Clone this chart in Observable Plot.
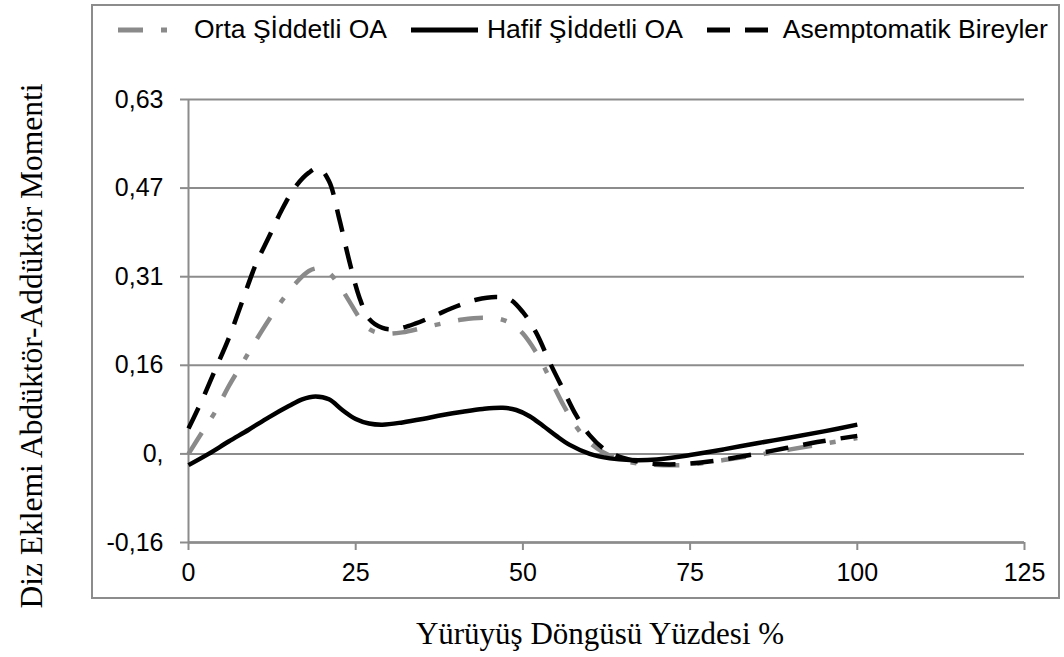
<!DOCTYPE html>
<html>
<head>
<meta charset="utf-8">
<script src="https://cdn.jsdelivr.net/npm/d3@7"></script>
<script src="https://cdn.jsdelivr.net/npm/@observablehq/plot@0.6"></script>
<style>
  html, body { margin: 0; padding: 0; background: #fff; }
  #wrap { position: relative; width: 1064px; height: 657px; overflow: hidden; }
  #frame { position: absolute; left: 91px; top: 4px; width: 965px; height: 591px; border: 2px solid #8c8c8c; }
  #chart { position: absolute; left: 0; top: 0; }
  #legend { position: absolute; left: 118px; top: 14px; width: max-content; display: flex; align-items: center; white-space: nowrap;
            font-family: "Liberation Sans", Arial, sans-serif; font-size: 26.5px; color: #000; }
  .item { display: flex; align-items: center; margin-right: 24px; flex-shrink: 0; white-space: nowrap; }
  .item svg { margin-right: 9px; flex-shrink: 0; }
  #ytitle { position: absolute; left: 32px; top: 346px; transform: translate(-50%, -50%) rotate(-90deg);
            white-space: nowrap; font-family: "Liberation Serif", "Times New Roman", serif; font-size: 31.5px; color: #000; }
  #xtitle { position: absolute; left: 600px; top: 616px; transform: translateX(-50%);
            white-space: nowrap; font-family: "Liberation Serif", "Times New Roman", serif; font-size: 31px; color: #000; }
</style>
</head>
<body>
<div id="wrap">
  <div id="frame"></div>
  <div id="chart"></div>
  <div id="legend"></div>
  <div id="ytitle">Diz Eklemi Abdüktör-Addüktör Momenti</div>
  <div id="xtitle">Yürüyüş Döngüsü Yüzdesi %</div>
</div>
<script>
// ---- Data ----
const seriesNames = ["Orta Şİddetli OA", "Hafif Şİddetli OA", "Asemptomatik Bireyler"];

const ortaX = [0, 2, 4, 6, 8, 10, 12, 14, 16, 18, 19.5, 21, 22.5, 24, 25.5, 27, 29, 32, 35, 38, 41, 44, 46.5, 48.5, 50, 52, 54, 56, 58, 60, 62, 65, 68, 71, 75, 80, 85, 90, 95, 100];
const ortaY = [0.0, 0.038, 0.075, 0.12, 0.16, 0.2, 0.238, 0.273, 0.303, 0.325, 0.33, 0.322, 0.30, 0.272, 0.243, 0.222, 0.214, 0.216, 0.224, 0.232, 0.239, 0.242, 0.24, 0.23, 0.214, 0.18, 0.135, 0.088, 0.048, 0.02, 0.003, -0.012, -0.018, -0.02, -0.019, -0.011, -0.002, 0.008, 0.018, 0.028];

const hafifX = [0, 3, 6, 9, 12, 15, 17, 19, 21, 23, 25, 27, 29, 32, 35, 38, 41, 44, 47, 49, 51, 53, 55, 57, 60, 63, 66, 70, 75, 80, 85, 90, 95, 100];
const hafifY = [-0.02, 0.0, 0.022, 0.043, 0.065, 0.085, 0.097, 0.102, 0.097, 0.078, 0.062, 0.054, 0.052, 0.056, 0.062, 0.069, 0.075, 0.080, 0.082, 0.078, 0.067, 0.05, 0.032, 0.016, 0.0, -0.008, -0.011, -0.01, -0.002, 0.008, 0.019, 0.029, 0.04, 0.052];

const asemX = [0, 2, 4, 6, 8, 10, 12, 14, 16, 18, 19.5, 21, 22.5, 24, 25.5, 27, 29, 31, 34, 37, 40, 43, 46, 48, 50, 52, 54, 56, 58, 60, 62, 64, 67, 70, 74, 80, 87, 94, 100];
const asemY = [0.045, 0.095, 0.15, 0.205, 0.27, 0.335, 0.385, 0.435, 0.475, 0.5, 0.508, 0.485, 0.42, 0.345, 0.28, 0.24, 0.224, 0.222, 0.232, 0.247, 0.262, 0.274, 0.279, 0.275, 0.252, 0.215, 0.163, 0.115, 0.068, 0.033, 0.01, -0.003, -0.013, -0.018, -0.018, -0.01, 0.005, 0.021, 0.032];

const xTicks = [0, 25, 50, 75, 100, 125];
const yTicks = [-0.1575, 0, 0.1575, 0.315, 0.4725, 0.63];
const yTickLabels = ["-0,16", "0,", "0,16", "0,31", "0,47", "0,63"];

// ---- Styles ----
const styles = [
  {stroke: "#8a8a8a", dash: "25,18,6,18"},
  {stroke: "#000000", dash: null},
  {stroke: "#000000", dash: "23,15"}
];

const toRows = (xs, ys) => xs.map((x, i) => ({x, y: ys[i]}));
const seriesData = [toRows(ortaX, ortaY), toRows(hafifX, hafifY), toRows(asemX, asemY)];

const grid = "#8c8c8c";
const chart = Plot.plot({
  width: 1064,
  height: 657,
  marginLeft: 188,
  marginRight: 40,
  marginTop: 99,
  marginBottom: 115,
  style: {fontFamily: "'Liberation Sans', Arial, sans-serif", fontSize: "25px", color: "#000", background: "transparent"},
  x: {domain: [0, 125]},
  y: {domain: [-0.1575, 0.63]},
  marks: [
    Plot.gridY(yTicks, {stroke: grid, strokeOpacity: 1, strokeWidth: 2}),
    Plot.ruleX([0], {stroke: grid, strokeWidth: 2}),
    Plot.ruleY([-0.1575], {stroke: grid, strokeWidth: 2.5}),
    Plot.axisY(yTicks, {tickSize: 8, tickPadding: 17, stroke: grid, strokeWidth: 2, fill: "#000", fontSize: 25,
      tickFormat: (d) => yTickLabels[yTicks.indexOf(d)], label: null}),
    Plot.axisX(xTicks, {tickSize: 8, tickPadding: 13, stroke: grid, strokeWidth: 2, fill: "#000", fontSize: 25,
      tickFormat: (d) => String(d), label: null}),
    ...seriesData.map((rows, i) => Plot.line(rows, {
      x: "x", y: "y", curve: "catmull-rom",
      stroke: styles[i].stroke, strokeWidth: 4.5,
      strokeDasharray: styles[i].dash || undefined,
      strokeLinecap: "butt", strokeLinejoin: "round"
    }))
  ]
});
document.getElementById("chart").appendChild(chart);

// ---- Legend ----
const legend = document.getElementById("legend");
seriesNames.forEach((name, i) => {
  const item = document.createElement("div");
  item.className = "item";
  const ns = "http://www.w3.org/2000/svg";
  const svg = document.createElementNS(ns, "svg");
  svg.setAttribute("width", 67);
  svg.setAttribute("height", 10);
  const ln = document.createElementNS(ns, "line");
  ln.setAttribute("x1", 0); ln.setAttribute("x2", 67);
  ln.setAttribute("y1", 5); ln.setAttribute("y2", 5);
  ln.setAttribute("stroke", styles[i].stroke);
  ln.setAttribute("stroke-width", 5);
  if (styles[i].dash) ln.setAttribute("stroke-dasharray", styles[i].dash);
  svg.appendChild(ln);
  const span = document.createElement("span");
  span.textContent = name;
  item.appendChild(svg);
  item.appendChild(span);
  legend.appendChild(item);
});
</script>
</body>
</html>
